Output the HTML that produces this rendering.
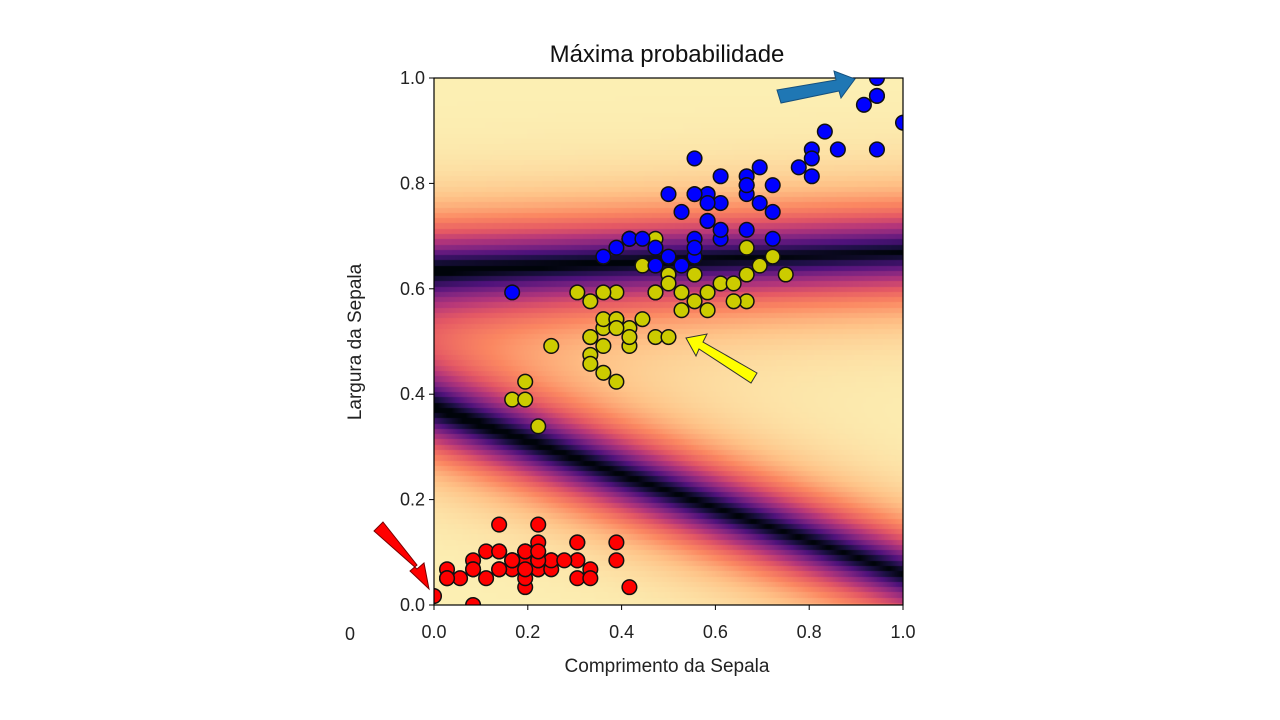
<!DOCTYPE html>
<html><head><meta charset="utf-8"><style>
body{margin:0;width:1280px;height:720px;background:#fff;overflow:hidden;font-family:"Liberation Sans","DejaVu Sans",sans-serif}
</style></head><body>
<svg id="chart" width="1280" height="720" xmlns="http://www.w3.org/2000/svg" style="position:absolute;left:0;top:0">
<defs><clipPath id="plotclip"><rect x="434" y="78" width="469" height="527"/></clipPath></defs>
<foreignObject x="434" y="78" width="469" height="527"><canvas id="heat" width="469" height="527" xmlns="http://www.w3.org/1999/xhtml"></canvas></foreignObject>
<g id="pts" clip-path="url(#plotclip)"></g>
<rect x="434" y="78" width="469" height="527" fill="none" stroke="#000" stroke-width="1.2"/>
<g id="ticks"></g>
<text x="667" y="62" text-anchor="middle" font-size="24" fill="#111">Máxima probabilidade</text>
<text x="667" y="672" text-anchor="middle" font-size="19" fill="#222">Comprimento da Sepala</text>
<text transform="translate(361,342) rotate(-90)" text-anchor="middle" font-size="19" fill="#222">Largura da Sepala</text>
<text x="350" y="640" text-anchor="middle" font-size="18" fill="#222">0</text>
<polygon points="777,90 836,80 834,71 855,79 841,98 839,91 781,103" fill="#1f77b4" stroke="#15507e" stroke-width="1"/>
<polygon points="757,373 703,342 707,334 686,338 696,356 699,349 751,383" fill="#ffff00" stroke="#333" stroke-width="1"/>
<polygon points="383,522 417,565 410,571 429,589 424,563 417,569 374,531" fill="#ff0000" stroke="#700" stroke-width="1"/>
</svg>
<script>
const setosa=[[5.1,1.4],[4.9,1.4],[4.7,1.3],[4.6,1.5],[5.0,1.4],[5.4,1.7],[4.6,1.4],[5.0,1.5],[4.4,1.4],[4.9,1.5],[5.4,1.5],[4.8,1.6],[4.8,1.4],[4.3,1.1],[5.8,1.2],[5.7,1.5],[5.4,1.3],[5.1,1.4],[5.7,1.7],[5.1,1.5],[5.4,1.7],[5.1,1.5],[4.6,1.0],[5.1,1.7],[4.8,1.9],[5.0,1.6],[5.0,1.6],[5.2,1.5],[5.2,1.4],[4.7,1.6],[4.8,1.6],[5.4,1.5],[5.2,1.5],[5.5,1.4],[4.9,1.5],[5.0,1.2],[5.5,1.3],[4.9,1.5],[4.4,1.3],[5.1,1.5],[5.0,1.3],[4.5,1.3],[4.4,1.3],[5.0,1.6],[5.1,1.9],[4.8,1.4],[5.1,1.6],[4.6,1.4],[5.3,1.5],[5.0,1.4]];
const versicolor=[[7.0,4.7],[6.4,4.5],[6.9,4.9],[5.5,4.0],[6.5,4.6],[5.7,4.5],[6.3,4.7],[4.9,3.3],[6.6,4.6],[5.2,3.9],[5.0,3.5],[5.9,4.2],[6.0,4.0],[6.1,4.7],[5.6,3.6],[6.7,4.4],[5.6,4.5],[5.8,4.1],[6.2,4.5],[5.6,3.9],[5.9,4.8],[6.1,4.0],[6.3,4.9],[6.1,4.7],[6.4,4.3],[6.6,4.4],[6.8,4.8],[6.7,5.0],[6.0,4.5],[5.7,3.5],[5.5,3.8],[5.5,3.7],[5.8,3.9],[6.0,5.1],[5.4,4.5],[6.0,4.5],[6.7,4.7],[6.3,4.4],[5.6,4.1],[5.5,4.0],[5.5,4.4],[6.1,4.6],[5.8,4.0],[5.0,3.3],[5.6,4.2],[5.7,4.2],[5.7,4.2],[6.2,4.3],[5.1,3.0],[5.7,4.1]];
const virginica=[[6.3,6.0],[5.8,5.1],[7.1,5.9],[6.3,5.6],[6.5,5.8],[7.6,6.6],[4.9,4.5],[7.3,6.3],[6.7,5.8],[7.2,6.1],[6.5,5.1],[6.4,5.3],[6.8,5.5],[5.7,5.0],[5.8,5.1],[6.4,5.3],[6.5,5.5],[7.7,6.7],[7.7,6.9],[6.0,5.0],[6.9,5.7],[5.6,4.9],[7.7,6.7],[6.3,4.9],[6.7,5.7],[7.2,6.0],[6.2,4.8],[6.1,4.9],[6.4,5.6],[7.2,5.8],[7.4,6.1],[7.9,6.4],[6.4,5.6],[6.3,5.1],[6.1,5.6],[7.7,6.1],[6.3,5.6],[6.4,5.5],[6.0,4.8],[6.9,5.4],[6.7,5.6],[6.9,5.1],[5.8,5.1],[6.8,5.9],[6.7,5.7],[6.7,5.2],[6.3,5.0],[6.5,5.2],[6.2,5.4],[5.9,5.1]];
const xTicks=[0,0.2,0.4,0.6,0.8,1.0];
const yTicks=[0,0.2,0.4,0.6,0.8,1.0];
const boundaryLow=[0.37,-0.31];
const boundaryHigh=[0.64,0.03];
const X0=434,X1=903,Y0=605,Y1=78;
const sx=v=>X0+v*(X1-X0), sy=v=>Y0-v*(Y0-Y1);
const nx=v=>(v-4.3)/3.6, ny=v=>(v-1.0)/5.9;
const NS="http://www.w3.org/2000/svg";
const magma=[[0,4,10],[28,16,68],[79,18,123],[129,37,129],[181,54,122],[229,89,100],[251,135,97],[254,194,135],[252,240,180]];
function cmap(t){t=Math.max(0,Math.min(1,t))*(magma.length-1);const i=Math.min(magma.length-2,Math.floor(t)),f=t-i;return magma[i].map((c,k)=>Math.round(c+(magma[i+1][k]-c)*f));}
const cv=document.getElementById('heat'),ctx=cv.getContext('2d');const W=cv.width,H=cv.height;const img=ctx.createImageData(W,H);const rows=100,s=0.07,pw=1.15;
for(let py=0;py<H;py++){const yv=Math.round((1-py/H)*rows)/rows;for(let px=0;px<W;px++){const xv=px/W;
const d1=Math.abs(yv-(boundaryLow[0]+boundaryLow[1]*xv)),d2=Math.abs(yv-(boundaryHigh[0]+boundaryHigh[1]*xv));
const between=yv>(boundaryLow[0]+boundaryLow[1]*xv)&&yv<(boundaryHigh[0]+boundaryHigh[1]*xv);
let tv=1-Math.exp(-Math.pow(d1/s,pw))-Math.exp(-Math.pow(d2/s,pw));
if(between) tv-=0.25*Math.exp(-Math.pow((d1+d2)/0.3,2));
const c=cmap(tv);const o=(py*W+px)*4;img.data[o]=c[0];img.data[o+1]=c[1];img.data[o+2]=c[2];img.data[o+3]=255;}}
ctx.putImageData(img,0,0);
const g=document.getElementById('pts');
function draw(arr,col,name){arr.forEach(d=>{const c=document.createElementNS(NS,'circle');c.setAttribute('cx',sx(nx(d[0])));c.setAttribute('cy',sy(ny(d[1])));c.setAttribute('r',7.3);c.setAttribute('fill',col);c.setAttribute('stroke','#111');c.setAttribute('stroke-width',1.5);


g.appendChild(c);});}
draw(setosa,'#ff0000','point-setosa');draw(versicolor,'#cccc00','point-versicolor');draw(virginica,'#0000ff','point-virginica');
const t=document.getElementById('ticks');
xTicks.forEach(v=>{const l=document.createElementNS(NS,'line');l.setAttribute('x1',sx(v));l.setAttribute('x2',sx(v));l.setAttribute('y1',Y0);l.setAttribute('y2',Y0+5);l.setAttribute('stroke','#000');


t.appendChild(l);const tx=document.createElementNS(NS,'text');tx.setAttribute('x',sx(v));tx.setAttribute('y',Y0+33);tx.setAttribute('text-anchor','middle');tx.setAttribute('font-size','18');tx.setAttribute('fill','#222');tx.textContent=v.toFixed(1);


t.appendChild(tx);});
yTicks.forEach(v=>{const l=document.createElementNS(NS,'line');l.setAttribute('x1',X0-5);l.setAttribute('x2',X0);l.setAttribute('y1',sy(v));l.setAttribute('y2',sy(v));l.setAttribute('stroke','#000');


t.appendChild(l);const tx=document.createElementNS(NS,'text');tx.setAttribute('x',X0-9);tx.setAttribute('y',sy(v)+6);tx.setAttribute('text-anchor','end');tx.setAttribute('font-size','18');tx.setAttribute('fill','#222');tx.textContent=v.toFixed(1);


t.appendChild(tx);});
</script>
</body></html>
